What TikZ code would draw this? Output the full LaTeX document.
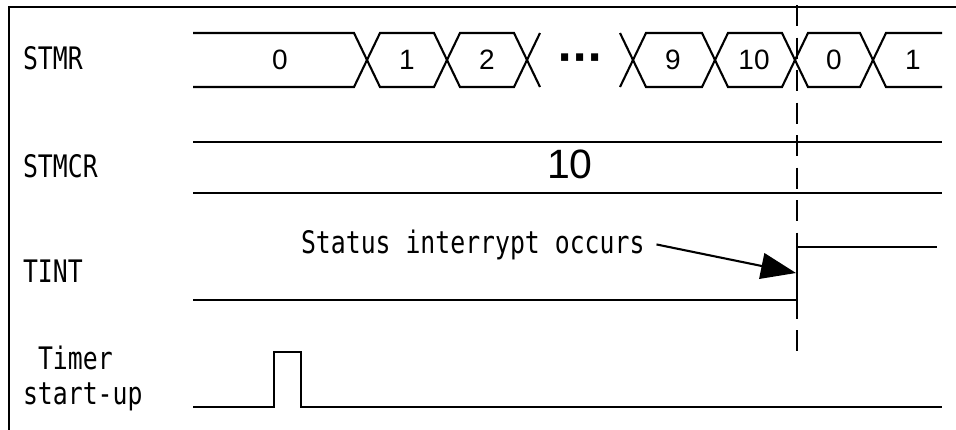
\documentclass[tikz,border=0pt]{standalone}
\usepackage{fontspec}
\usepackage{tikz}
\usetikzlibrary{arrows.meta}
\newfontfamily\gothic[FakeStretch=0.80]{DejaVu Sans Mono}
\newfontfamily\numfont{Liberation Sans}
\newfontfamily\dotfont{DejaVu Sans}

\begin{document}
\begin{tikzpicture}[x=1pt, y=-1pt, line width=2.1pt,
  lbl/.style={font=\gothic\fontsize{31}{36}\selectfont, anchor=base west, inner sep=0pt},
  val/.style={font=\numfont\fontsize{28}{32}\selectfont, inner sep=0pt}]
\useasboundingbox (0,0) rectangle (956,429);
% frame
\draw (9,440) -- (9,7) -- (960,7);
% signal names
\node[lbl] (stmr) at (22,69) {STMR};
\node[lbl] (stmcr) at (22,177) {STMCR};
\node[lbl] (tint) at (22,282) {TINT};
\node[lbl] (timer) at (37,369) {Timer};
\node[lbl] (startup) at (22,404) {start-up};
% STMR
\draw (193,33) -- (354,33) -- (380,87) -- (434,87) -- (460,33) -- (514,33) -- (540,87);
\draw (193,87) -- (354,87) -- (380,33) -- (434,33) -- (460,87) -- (514,87) -- (540,33);
\draw (620,33) -- (646,87) -- (702,87) -- (728,33) -- (782,33) -- (808,87) -- (860,87) -- (886,33) -- (942,33);
\draw (620,87) -- (646,33) -- (702,33) -- (728,87) -- (782,87) -- (808,33) -- (860,33) -- (886,87) -- (942,87);
\node[val] (s0) at (280,60) {0};
\node[val] (s1) at (407,60) {1};
\node[val] (s2) at (487,60) {2};
\node[font=\dotfont\bfseries\fontsize{40}{44}\selectfont, inner sep=0pt] (dots) at (580,63) {···};
\node[val] (s9) at (673,60) {9};
\node[val] (s10) at (754,60) {10};
\node[val] (r0) at (834,60) {0};
\node[val] (r1) at (913,60) {1};
% STMCR
\draw (193,142) -- (942,142);
\draw (193,193) -- (942,193);
\node[val, font=\numfont\fontsize{41}{48}\selectfont] (cnt) at (570,164) {10};
% TINT
\draw (193,300) -- (797,300) -- (797,247) -- (937,247);
\node[lbl] (occ) at (300,253) {Status interrypt occurs};
\coordinate (irq) at (796,273);
\draw[-{Triangle[length=35pt,width=26pt]}] ([xshift=11pt]occ.east) -- (irq);
% Timer start-up
\draw (193,407) -- (274,407) -- (274,352) -- (301,352) -- (301,407) -- (942,407);
% match point
\draw[dash pattern=on 21pt off 11.5pt] (797,5) -- (797,352);
\end{tikzpicture}
\end{document}
